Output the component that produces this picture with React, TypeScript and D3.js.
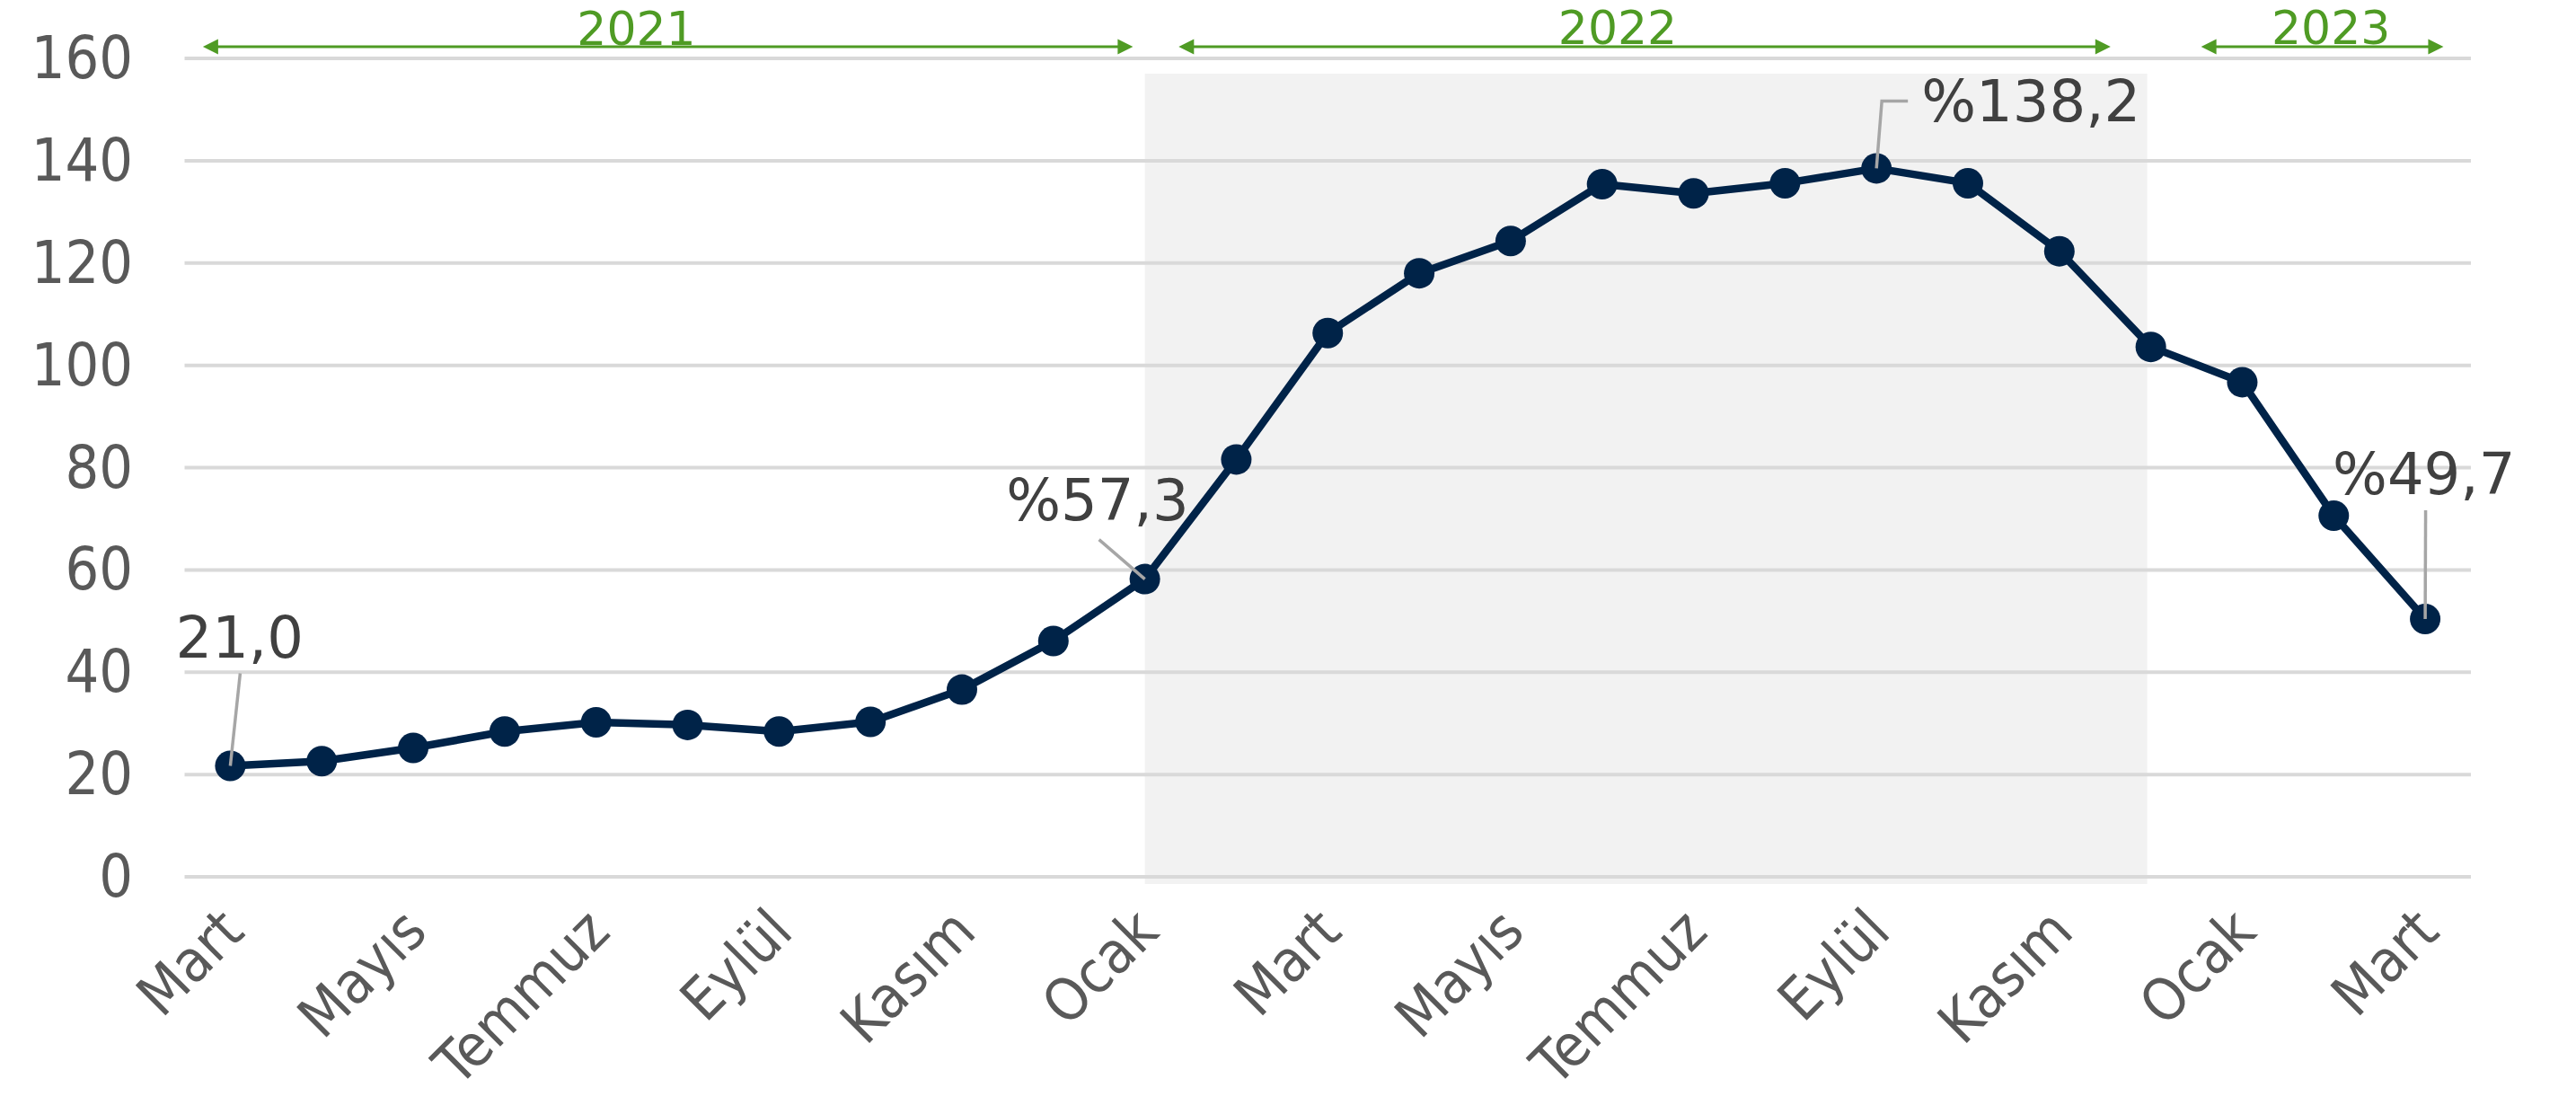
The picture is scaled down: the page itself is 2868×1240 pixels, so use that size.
import React from "react";
import * as d3 from "d3";

const months = [
  "Mart", "Nisan", "Mayıs", "Haziran", "Temmuz", "Ağustos", "Eylül", "Ekim", "Kasım", "Aralık",
  "Ocak", "Şubat", "Mart", "Nisan", "Mayıs", "Haziran", "Temmuz", "Ağustos", "Eylül", "Ekim", "Kasım", "Aralık",
  "Ocak", "Şubat", "Mart",
];
const values = [
  21.7, 22.6, 25.2, 28.4, 30.2, 29.7, 28.4, 30.3, 36.6, 46.1,
  58.2, 81.6, 106.3, 118.0, 124.3, 135.4, 133.6, 135.6, 138.5, 135.6, 122.3, 103.6,
  96.7, 70.6, 50.4,
];
const yTicks = [0, 20, 40, 60, 80, 100, 120, 140, 160];
// year spans in fractional category index: [start, end, labelCenter]
const years = [
  { label: "2021", start: -0.3, end: 9.87, center: 4.44, textY: 50 },
  { label: "2022", start: 10.37, end: 20.56, center: 15.17, textY: 48.5 },
  { label: "2023", start: 21.55, end: 24.2, center: 22.97, textY: 49 },
];
// highlighted period (category indices)
const shadeStart = 10;
const shadeEnd = 21;
// data labels: index, text, placement offsets
const dataLabels = [
  { i: 0, text: "21,0", anchor: "start", dx: -61, dy: -120, leader: [[11, -103]] },
  { i: 10, text: "%57,3", anchor: "end", dx: 49, dy: -66, leader: [[-51, -44]] },
  { i: 18, text: "%138,2", anchor: "start", dx: 50, dy: -52, leader: [[6, -75], [35, -75]] },
  { i: 24, text: "%49,7", anchor: "start", dx: -103, dy: -139, leader: [[0.5, -121]] },
];

const W = 2868;
const H = 1240;
const FONT = "'DejaVu Sans', Verdana, sans-serif";
const FONT_C = "'DejaVu Sans Condensed', 'DejaVu Sans', sans-serif";
const NAVY = "#002348";
const GREEN = "#4f9b24";

export default function App() {
  const x = d3
    .scaleBand<number>()
    .domain(values.map((_, i) => i))
    .range([205.5, 2751])
    .padding(0);
  const bw = x.bandwidth();
  const cx = (i: number) => (x(i) as number) + bw / 2;
  const xf = d3.scaleLinear().domain([-0.5, 24.5]).range([205.5, 2751]);
  const y = d3.scaleLinear().domain([0, 160]).range([976, 65]);

  const line = d3
    .line<number>()
    .x((_, i) => cx(i))
    .y((d) => y(d));

  const arrow = (x1: number, x2: number, yy: number, key: string) => {
    const L = 17;
    const h = 8.5;
    return (
      <g key={key}>
        <line x1={x1 + L - 2} x2={x2 - L + 2} y1={yy} y2={yy} stroke={GREEN} strokeWidth={3} />
        <path d={`M${x1},${yy} L${x1 + L},${yy - h} L${x1 + L},${yy + h} Z`} fill={GREEN} />
        <path d={`M${x2},${yy} L${x2 - L},${yy - h} L${x2 - L},${yy + h} Z`} fill={GREEN} />
      </g>
    );
  };

  return (
    <div style={{ position: "absolute", left: 0, top: 0 }}>
      <svg width={W} height={H} style={{ display: "block", background: "#fff" }}>
        {/* shaded 2022 region */}
        <rect
          x={cx(shadeStart)}
          y={82}
          width={cx(shadeEnd) - 4 - cx(shadeStart)}
          height={984 - 82}
          fill="#f2f2f2"
        />
        {/* gridlines */}
        {yTicks.map((t) => (
          <line key={t} x1={205.5} x2={2751} y1={y(t)} y2={y(t)} stroke="#d9d9d9" strokeWidth={4} />
        ))}
        {/* y tick labels */}
        {yTicks.map((t) => (
          <text
            key={"yl" + t}
            x={148}
            y={y(t) + 22}
            textAnchor="end"
            fontFamily={FONT_C}
            fontStretch="condensed"
            fontSize={66}
            fill="#595959"
          >
            {t}
          </text>
        ))}
        {/* x labels */}
        {months.map((m, i) =>
          i % 2 === 0 ? (
            <text
              key={"xl" + i}
              transform={`translate(${cx(i) + 18},${1040}) rotate(-45)`}
              textAnchor="end"
              fontFamily={FONT_C}
              fontStretch="condensed"
              fontSize={65}
              fill="#595959"
            >
              {m}
            </text>
          ) : null
        )}
        {/* year arrows */}
        {years.map((yr) => (
          <g key={yr.label}>
            {arrow(xf(yr.start), xf(yr.end), 52, "a" + yr.label)}
            <text
              x={xf(yr.center)}
              y={yr.textY}
              textAnchor="middle"
              fontFamily={FONT}
              fontSize={52}
              fill={GREEN}
            >
              {yr.label}
            </text>
          </g>
        ))}
        {/* series line */}
        <path d={line(values) || ""} fill="none" stroke={NAVY} strokeWidth={8.5} strokeLinejoin="round" />
        {values.map((v, i) => (
          <circle key={"p" + i} cx={cx(i)} cy={y(v)} r={17} fill={NAVY} />
        ))}
        {/* data labels with leader lines */}
        {dataLabels.map((d) => {
          const px = cx(d.i);
          const py = y(values[d.i]);
          const pts = [[px, py], ...d.leader.map(([a, b]) => [px + a, py + b])];
          return (
            <g key={"dl" + d.i}>
              <polyline
                points={pts.map((p) => p.join(",")).join(" ")}
                fill="none"
                stroke="#a6a6a6"
                strokeWidth={3.5}
              />
              <text
                x={px + d.dx}
                y={py + d.dy}
                textAnchor={d.anchor as any}
                fontFamily={FONT}
                fontSize={64}
                fill="#404040"
              >
                {d.text}
              </text>
            </g>
          );
        })}
      </svg>
    </div>
  );
}
